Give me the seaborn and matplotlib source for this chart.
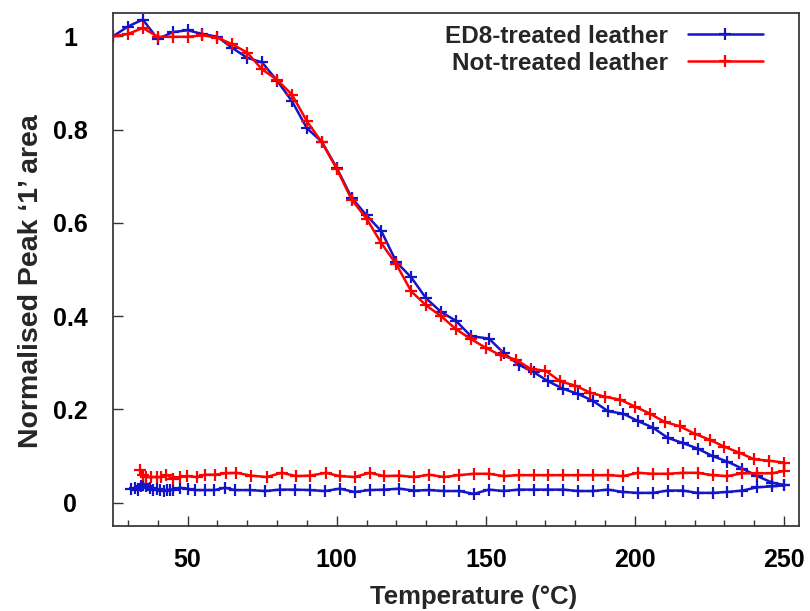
"""
Normalised peak '1' area vs temperature, heating then cooling loop
"""
import numpy as np
import pandas as pd
import matplotlib
matplotlib.use('Agg')
import matplotlib.pyplot as plt
import seaborn as sns

# ED8-treated leather: heating run (25 -> 250 C) then cooling run (250 -> 31 C)
ed8_temp = [25, 30, 35, 40, 45, 50, 55, 60, 65, 70, 75, 80, 85, 90, 95, 100,
            105, 110, 115, 120, 125, 130, 135, 140, 145, 151, 156, 161, 166,
            171, 176, 181, 186, 191, 196, 201, 206, 211, 216, 221, 226, 231,
            236, 241, 246, 250,
            250, 246, 241, 236, 231, 226, 221, 216, 211, 206, 201, 196, 191,
            186, 181, 176, 171, 166, 161, 156, 151, 146, 141, 136, 131, 126,
            121, 116, 111, 106, 101, 96, 91, 86, 81, 76, 71, 66, 62.5, 59, 56,
            52.5, 50, 47.5, 45, 44, 43, 42, 40.7, 39.6, 38.4, 37.3, 36.2, 35.1,
            34.5, 33.4, 32.3, 31.2]
ed8_area = [1.0, 1.021, 1.036, 0.994, 1.009, 1.013, 1.005, 0.999, 0.975, 0.954,
            0.944, 0.905, 0.861, 0.803, 0.774, 0.718, 0.654, 0.616, 0.582,
            0.516, 0.483, 0.438, 0.409, 0.390, 0.357, 0.352, 0.321, 0.296,
            0.280, 0.260, 0.244, 0.233, 0.218, 0.196, 0.191, 0.175, 0.161,
            0.139, 0.128, 0.116, 0.100, 0.088, 0.073, 0.057, 0.043, 0.038,
            0.037, 0.035, 0.033, 0.026, 0.023, 0.021, 0.021, 0.026, 0.026,
            0.021, 0.021, 0.023, 0.028, 0.025, 0.025, 0.028, 0.028, 0.028,
            0.028, 0.025, 0.028, 0.019, 0.025, 0.025, 0.027, 0.026, 0.030,
            0.028, 0.027, 0.023, 0.030, 0.025, 0.027, 0.028, 0.028, 0.025,
            0.027, 0.027, 0.032, 0.027, 0.027, 0.027, 0.030, 0.032, 0.028,
            0.028, 0.027, 0.025, 0.027, 0.030, 0.028, 0.032, 0.035, 0.041,
            0.035, 0.028, 0.032, 0.030]

# Not-treated leather: heating run then cooling run
nt_temp = [25, 30, 35, 40, 45, 50, 55, 60, 65, 70, 75, 80, 85, 90, 95, 100,
           105, 110, 115, 120, 125, 130, 135, 140, 145, 150, 155, 160, 165,
           170, 175, 180, 185, 190, 195, 200, 205, 210, 215, 220, 225, 230,
           235, 240, 245, 250,
           250, 246, 241, 236, 231, 226, 221, 216, 211, 206, 201, 196, 191,
           186, 181, 176, 171, 166, 161, 156, 151, 146, 141, 136, 131, 126,
           121, 116, 111, 106, 101, 96.4, 91, 86.5, 81.5, 76.5, 71.4, 66.4,
           62.8, 59.1, 55.8, 53, 49.8, 47.4, 45.1, 42.9, 41.2, 39.6, 37.9,
           36.2, 35.1, 34]
nt_area = [1.0, 1.005, 1.018, 0.999, 0.999, 0.999, 1.002, 0.997, 0.983, 0.965,
           0.929, 0.907, 0.875, 0.818, 0.773, 0.716, 0.650, 0.609, 0.556,
           0.511, 0.453, 0.423, 0.400, 0.372, 0.351, 0.332, 0.316, 0.307,
           0.287, 0.283, 0.260, 0.251, 0.236, 0.227, 0.221, 0.206, 0.191,
           0.173, 0.164, 0.148, 0.135, 0.120, 0.107, 0.093, 0.090, 0.086,
           0.068, 0.063, 0.063, 0.063, 0.057, 0.059, 0.064, 0.064, 0.062,
           0.062, 0.064, 0.057, 0.059, 0.059, 0.059, 0.059, 0.059, 0.059,
           0.059, 0.057, 0.062, 0.062, 0.059, 0.055, 0.060, 0.055, 0.058,
           0.057, 0.064, 0.055, 0.057, 0.064, 0.058, 0.057, 0.064, 0.055,
           0.058, 0.064, 0.063, 0.060, 0.060, 0.055, 0.057, 0.055, 0.051,
           0.060, 0.055, 0.055, 0.055, 0.055, 0.060, 0.070]

labels = ['ED8-treated leather', 'Not-treated leather']
colors = ['#1414c8', '#ff0000']

df = pd.concat([
    pd.DataFrame({'temp': ed8_temp, 'area': ed8_area, 'sample': labels[0]}),
    pd.DataFrame({'temp': nt_temp, 'area': nt_area, 'sample': labels[1]}),
], ignore_index=True)

sns.set_style('ticks')
plt.rcParams['font.family'] = ['Liberation Sans', 'DejaVu Sans']
plt.rcParams['font.weight'] = 'bold'

fig = plt.figure(figsize=(8.1, 6.11), dpi=100)
ax = fig.add_axes([113 / 810, 1 - 526 / 611, 686 / 810, 513 / 611])

sns.lineplot(data=df, x='temp', y='area', hue='sample', hue_order=labels,
             palette=colors, sort=False, estimator=None, marker='+',
             markersize=9, markeredgewidth=1.6, linewidth=1.8, ax=ax,
             legend=False)
# '+' markers get a white edge by default, colour them like the line
for line in ax.lines:
    line.set_markeredgecolor(line.get_color())

ax.set_xlim(25, 255)
ax.set_ylim(-0.05, 1.05)
ax.set_xticks([50, 100, 150, 200, 250])
ax.set_xticks(np.arange(30, 251, 10), minor=True)
ax.set_yticks([0, 0.2, 0.4, 0.6, 0.8, 1.0])
ax.set_yticklabels(['0', '0.2', '0.4', '0.6', '0.8', '1'])

ax.tick_params(axis='x', which='major', direction='in', length=7, width=1,
               pad=16, labelsize=18, colors='#333333', labelcolor='black')
ax.tick_params(axis='x', which='minor', direction='in', length=4, width=1,
               colors='#333333')
ax.tick_params(axis='y', which='major', direction='in', length=7, width=1,
               pad=31, labelsize=18, colors='#333333', labelcolor='black')
for lab in ax.get_yticklabels():
    lab.set_horizontalalignment('center')

for sp in ax.spines.values():
    sp.set_color('#3a3a3a')
    sp.set_linewidth(1.3)

ax.set_xlabel('Temperature (\u00b0C)', fontsize=18.5, fontweight='bold')
ax.set_ylabel('Normalised Peak \u20181\u2019 area', fontsize=20.5,
              fontweight='bold')
ax.xaxis.set_label_coords(0.525, -0.115)
ax.yaxis.set_label_coords(-0.10, 0.478)

ax.legend(handles=ax.lines[:2], labels=labels, loc='upper right',
          bbox_to_anchor=(763 / 810, 1 - 25 / 611),
          bbox_transform=fig.transFigure, frameon=False, markerfirst=False,
          numpoints=1, handlelength=3.1, handletextpad=0.8, borderpad=0,
          borderaxespad=0, labelspacing=0.15,
          prop={'size': 17.5, 'weight': 'bold'})

plt.savefig('out.png', dpi=100)
plt.close()
